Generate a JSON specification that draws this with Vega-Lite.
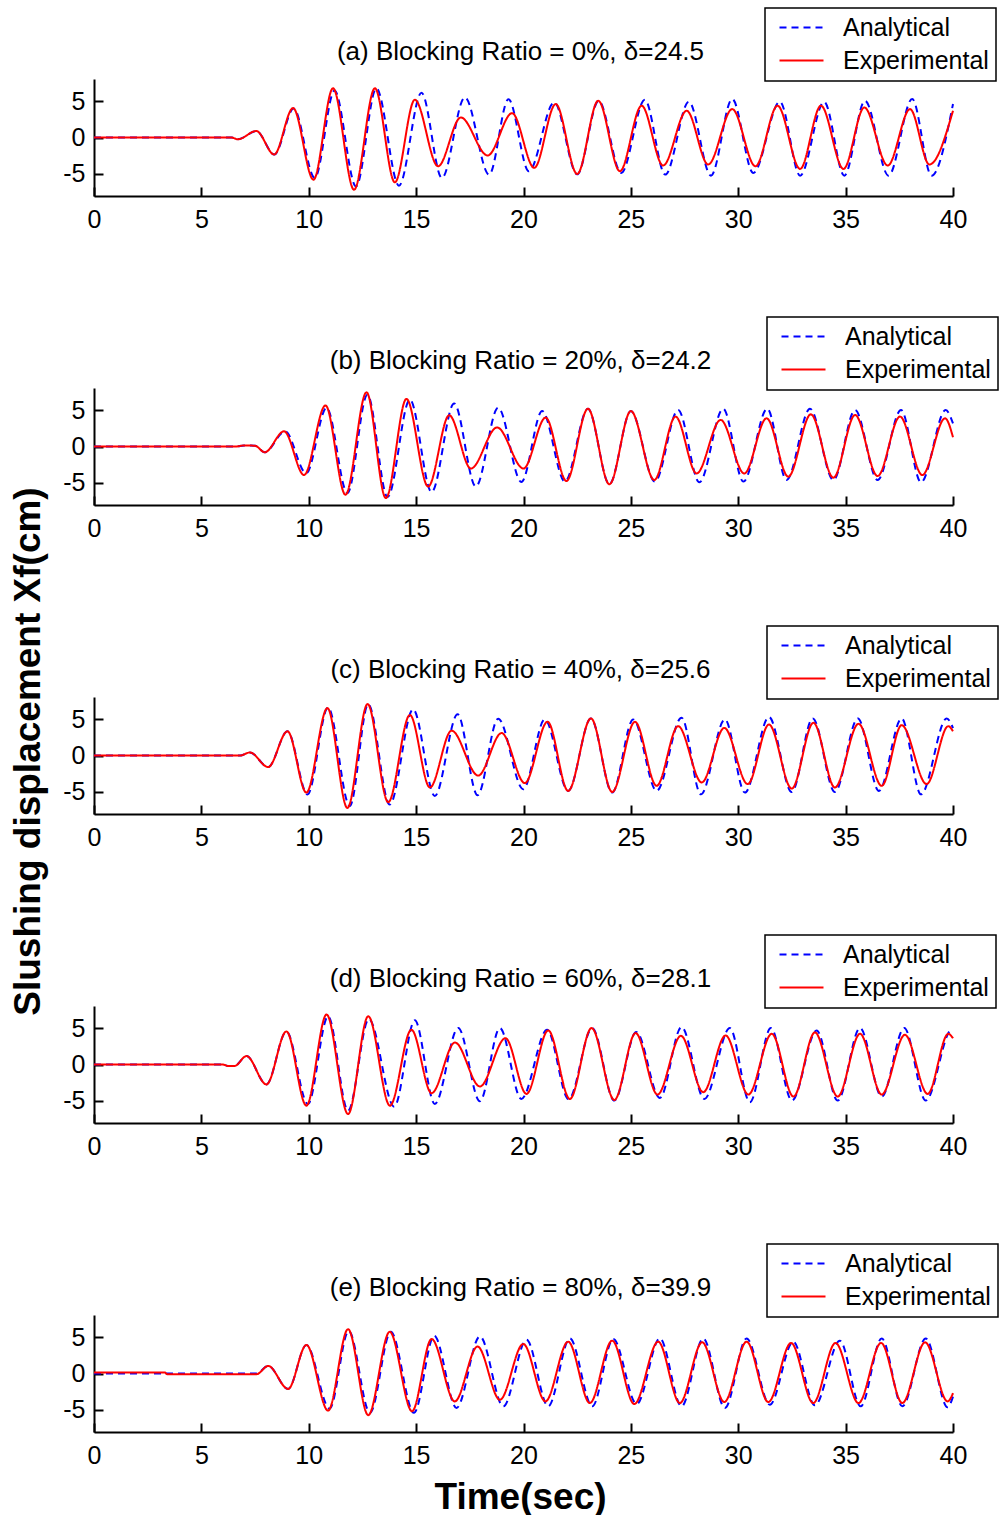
{
"$schema": "https://vega.github.io/schema/vega-lite/v6.json",
"background": "white",
"padding": {"left": 9, "top": 7, "right": 0, "bottom": 0},
"config": {
  "view": {"stroke": null},
  "font": "Liberation Sans",
  "axis": {"grid": false, "domainColor": "black", "domainWidth": 2, "tickColor": "black", "tickWidth": 2, "tickSize": -9, "labelFontSize": 25, "labelColor": "black", "labelFont": "Liberation Sans", "titleFont": "Liberation Sans", "titleColor": "black"},
  "axisX": {"labelPadding": 20, "labelFlush": false},
  "axisY": {"labelPadding": 18, "labelExpr": "'' + datum.value"},
  "legend": {"strokeColor": "black", "fillColor": "white", "padding": 7, "labelFontSize": 25, "labelFont": "Liberation Sans", "labelColor": "black", "symbolType": "M-2,0L2,0", "symbolSize": 484, "symbolStrokeWidth": 2, "symbolOffset": 17, "labelOffset": 29, "rowPadding": 7, "strokeWidth": 1.5},
  "title": {"fontSize": 26, "fontWeight": "normal", "font": "Liberation Sans", "color": "black", "offset": -58, "anchor": "middle", "dx": -3}
},
"datasets": {
"a": [
{"series":"Experimental","time":0,"disp":0},{"series":"Experimental","time":6.4,"disp":0},{"series":"Experimental","time":6.7,"disp":-0.25},{"series":"Experimental","time":7.56,"disp":0.9},{"series":"Experimental","time":8.39,"disp":-2.35},{"series":"Experimental","time":9.27,"disp":4.07},{"series":"Experimental","time":10.22,"disp":-5.84},{"series":"Experimental","time":11.13,"disp":6.81},{"series":"Experimental","time":12.11,"disp":-7.23},{"series":"Experimental","time":13.08,"disp":6.81},{"series":"Experimental","time":14.01,"disp":-6.21},{"series":"Experimental","time":14.94,"disp":5.23},{"series":"Experimental","time":16.02,"disp":-3.98},{"series":"Experimental","time":17.08,"disp":2.77},{"series":"Experimental","time":18.33,"disp":-2.49},{"series":"Experimental","time":19.47,"disp":3.37},{"series":"Experimental","time":20.5,"disp":-4.2},{"series":"Experimental","time":21.5,"disp":4.63},{"series":"Experimental","time":22.5,"disp":-5.05},{"series":"Experimental","time":23.48,"disp":5.09},{"series":"Experimental","time":24.49,"disp":-4.67},{"series":"Experimental","time":25.5,"disp":4.4},{"series":"Experimental","time":26.5,"disp":-3.88},{"series":"Experimental","time":27.6,"disp":3.7},{"series":"Experimental","time":28.6,"disp":-3.74},{"series":"Experimental","time":29.72,"disp":3.93},{"series":"Experimental","time":30.8,"disp":-3.98},{"series":"Experimental","time":31.83,"disp":4.4},{"series":"Experimental","time":32.88,"disp":-4.35},{"series":"Experimental","time":33.85,"disp":4.4},{"series":"Experimental","time":34.9,"disp":-4.35},{"series":"Experimental","time":35.87,"disp":4.16},{"series":"Experimental","time":36.96,"disp":-3.88},{"series":"Experimental","time":38.0,"disp":3.93},{"series":"Experimental","time":38.9,"disp":-3.74},{"series":"Experimental","time":40,"disp":3.7},
{"series":"Analytical","time":0,"disp":0},{"series":"Analytical","time":6.4,"disp":0},{"series":"Analytical","time":6.7,"disp":-0.25},{"series":"Analytical","time":7.56,"disp":0.9},{"series":"Analytical","time":8.4,"disp":-2.35},{"series":"Analytical","time":9.3,"disp":4.0},{"series":"Analytical","time":10.28,"disp":-5.6},{"series":"Analytical","time":11.2,"disp":6.5},{"series":"Analytical","time":12.2,"disp":-6.77},{"series":"Analytical","time":13.15,"disp":6.81},{"series":"Analytical","time":14.2,"disp":-6.67},{"series":"Analytical","time":15.25,"disp":6.2},{"series":"Analytical","time":16.2,"disp":-5.6},{"series":"Analytical","time":17.27,"disp":5.56},{"series":"Analytical","time":18.4,"disp":-5.14},{"series":"Analytical","time":19.3,"disp":5.3},{"series":"Analytical","time":20.25,"disp":-4.67},{"series":"Analytical","time":21.43,"disp":4.86},{"series":"Analytical","time":22.5,"disp":-5.1},{"series":"Analytical","time":23.5,"disp":5.09},{"series":"Analytical","time":24.55,"disp":-4.9},{"series":"Analytical","time":25.65,"disp":5.23},{"series":"Analytical","time":26.6,"disp":-5.14},{"series":"Analytical","time":27.7,"disp":4.95},{"series":"Analytical","time":28.73,"disp":-5.28},{"series":"Analytical","time":29.72,"disp":5.33},{"series":"Analytical","time":30.7,"disp":-4.9},{"series":"Analytical","time":31.94,"disp":4.95},{"series":"Analytical","time":32.88,"disp":-5.28},{"series":"Analytical","time":34.0,"disp":4.95},{"series":"Analytical","time":34.94,"disp":-5.28},{"series":"Analytical","time":35.9,"disp":5.09},{"series":"Analytical","time":37.0,"disp":-5.28},{"series":"Analytical","time":38.1,"disp":5.33},{"series":"Analytical","time":39.0,"disp":-5.28},{"series":"Analytical","time":40,"disp":4.63}
],
"b": [
{"series":"Experimental","time":0,"disp":0},{"series":"Experimental","time":6.6,"disp":0},{"series":"Experimental","time":7.0,"disp":0.15},{"series":"Experimental","time":7.5,"disp":0.1},{"series":"Experimental","time":7.95,"disp":-0.8},{"series":"Experimental","time":8.85,"disp":2.1},{"series":"Experimental","time":9.78,"disp":-3.95},{"series":"Experimental","time":10.78,"disp":5.68},{"series":"Experimental","time":11.71,"disp":-6.68},{"series":"Experimental","time":12.69,"disp":7.5},{"series":"Experimental","time":13.59,"disp":-7.14},{"series":"Experimental","time":14.55,"disp":6.59},{"series":"Experimental","time":15.56,"disp":-5.55},{"series":"Experimental","time":16.54,"disp":4.32},{"series":"Experimental","time":17.55,"disp":-3.05},{"series":"Experimental","time":18.77,"disp":2.64},{"series":"Experimental","time":20.0,"disp":-3.05},{"series":"Experimental","time":21.03,"disp":4.0},{"series":"Experimental","time":22.0,"disp":-4.77},{"series":"Experimental","time":23.0,"disp":5.23},{"series":"Experimental","time":24.0,"disp":-5.23},{"series":"Experimental","time":25.0,"disp":4.91},{"series":"Experimental","time":26.09,"disp":-4.64},{"series":"Experimental","time":27.08,"disp":4.14},{"series":"Experimental","time":28.06,"disp":-3.73},{"series":"Experimental","time":29.18,"disp":3.68},{"series":"Experimental","time":30.28,"disp":-3.73},{"series":"Experimental","time":31.32,"disp":3.91},{"series":"Experimental","time":32.33,"disp":-4.18},{"series":"Experimental","time":33.38,"disp":4.45},{"series":"Experimental","time":34.43,"disp":-4.32},{"series":"Experimental","time":35.44,"disp":4.36},{"series":"Experimental","time":36.49,"disp":-4.09},{"series":"Experimental","time":37.53,"disp":4.14},{"series":"Experimental","time":38.57,"disp":-3.95},{"series":"Experimental","time":39.63,"disp":3.91},{"series":"Experimental","time":40,"disp":1.27},
{"series":"Analytical","time":0,"disp":0},{"series":"Analytical","time":6.6,"disp":0},{"series":"Analytical","time":7.0,"disp":0.15},{"series":"Analytical","time":7.5,"disp":0.1},{"series":"Analytical","time":7.95,"disp":-0.8},{"series":"Analytical","time":8.9,"disp":2.1},{"series":"Analytical","time":9.88,"disp":-3.7},{"series":"Analytical","time":10.83,"disp":5.36},{"series":"Analytical","time":11.8,"disp":-6.45},{"series":"Analytical","time":12.73,"disp":7.18},{"series":"Analytical","time":13.67,"disp":-7.0},{"series":"Analytical","time":14.71,"disp":6.5},{"series":"Analytical","time":15.72,"disp":-6.3},{"series":"Analytical","time":16.77,"disp":5.95},{"series":"Analytical","time":17.78,"disp":-5.55},{"series":"Analytical","time":18.82,"disp":5.36},{"series":"Analytical","time":19.9,"disp":-4.9},{"series":"Analytical","time":20.87,"disp":4.9},{"series":"Analytical","time":21.93,"disp":-4.86},{"series":"Analytical","time":23.0,"disp":5.23},{"series":"Analytical","time":24.0,"disp":-5.23},{"series":"Analytical","time":25.0,"disp":4.91},{"series":"Analytical","time":26.12,"disp":-4.86},{"series":"Analytical","time":27.2,"disp":5.05},{"series":"Analytical","time":28.19,"disp":-4.95},{"series":"Analytical","time":29.3,"disp":5.23},{"series":"Analytical","time":30.24,"disp":-4.86},{"series":"Analytical","time":31.35,"disp":5.23},{"series":"Analytical","time":32.25,"disp":-4.64},{"series":"Analytical","time":33.34,"disp":5.23},{"series":"Analytical","time":34.43,"disp":-4.64},{"series":"Analytical","time":35.44,"disp":5.05},{"series":"Analytical","time":36.49,"disp":-4.64},{"series":"Analytical","time":37.58,"disp":5.05},{"series":"Analytical","time":38.51,"disp":-4.95},{"series":"Analytical","time":39.66,"disp":5.05},{"series":"Analytical","time":40,"disp":3.2}
],
"c": [
{"series":"Experimental","time":0,"disp":0},{"series":"Experimental","time":6.8,"disp":0},{"series":"Experimental","time":7.26,"disp":0.42},{"series":"Experimental","time":8.11,"disp":-1.6},{"series":"Experimental","time":9.01,"disp":3.35},{"series":"Experimental","time":9.89,"disp":-5.14},{"series":"Experimental","time":10.87,"disp":6.56},{"series":"Experimental","time":11.8,"disp":-7.26},{"series":"Experimental","time":12.74,"disp":7.12},{"series":"Experimental","time":13.7,"disp":-6.46},{"series":"Experimental","time":14.71,"disp":5.61},{"series":"Experimental","time":15.64,"disp":-4.43},{"series":"Experimental","time":16.65,"disp":3.44},{"series":"Experimental","time":17.89,"disp":-2.78},{"series":"Experimental","time":18.98,"disp":3.11},{"series":"Experimental","time":20.06,"disp":-3.82},{"series":"Experimental","time":21.12,"disp":4.67},{"series":"Experimental","time":22.08,"disp":-4.9},{"series":"Experimental","time":23.14,"disp":5.14},{"series":"Experimental","time":24.13,"disp":-5.05},{"series":"Experimental","time":25.19,"disp":4.67},{"series":"Experimental","time":26.2,"disp":-4.2},{"series":"Experimental","time":27.2,"disp":4.06},{"series":"Experimental","time":28.3,"disp":-3.73},{"series":"Experimental","time":29.35,"disp":3.82},{"series":"Experimental","time":30.44,"disp":-3.96},{"series":"Experimental","time":31.43,"disp":4.29},{"series":"Experimental","time":32.49,"disp":-4.58},{"series":"Experimental","time":33.5,"disp":4.53},{"series":"Experimental","time":34.5,"disp":-4.43},{"series":"Experimental","time":35.6,"disp":4.39},{"series":"Experimental","time":36.68,"disp":-4.2},{"series":"Experimental","time":37.61,"disp":4.2},{"series":"Experimental","time":38.77,"disp":-3.96},{"series":"Experimental","time":39.78,"disp":4.06},{"series":"Experimental","time":40,"disp":3.35},
{"series":"Analytical","time":0,"disp":0},{"series":"Analytical","time":6.8,"disp":0},{"series":"Analytical","time":7.26,"disp":0.42},{"series":"Analytical","time":8.11,"disp":-1.6},{"series":"Analytical","time":9.01,"disp":3.35},{"series":"Analytical","time":9.94,"disp":-5.4},{"series":"Analytical","time":10.9,"disp":6.65},{"series":"Analytical","time":11.91,"disp":-7.0},{"series":"Analytical","time":12.77,"disp":7.1},{"series":"Analytical","time":13.77,"disp":-6.8},{"series":"Analytical","time":14.86,"disp":6.4},{"series":"Analytical","time":15.87,"disp":-5.6},{"series":"Analytical","time":16.93,"disp":5.7},{"series":"Analytical","time":17.86,"disp":-5.5},{"series":"Analytical","time":18.82,"disp":5.1},{"series":"Analytical","time":19.99,"disp":-4.67},{"series":"Analytical","time":20.99,"disp":5.0},{"series":"Analytical","time":22.08,"disp":-4.9},{"series":"Analytical","time":23.14,"disp":5.14},{"series":"Analytical","time":24.13,"disp":-5.14},{"series":"Analytical","time":25.11,"disp":5.0},{"series":"Analytical","time":26.2,"disp":-4.9},{"series":"Analytical","time":27.36,"disp":5.24},{"series":"Analytical","time":28.26,"disp":-5.38},{"series":"Analytical","time":29.38,"disp":5.0},{"series":"Analytical","time":30.31,"disp":-5.14},{"series":"Analytical","time":31.43,"disp":5.33},{"series":"Analytical","time":32.49,"disp":-5.05},{"series":"Analytical","time":33.47,"disp":5.14},{"series":"Analytical","time":34.5,"disp":-5.05},{"series":"Analytical","time":35.57,"disp":5.14},{"series":"Analytical","time":36.55,"disp":-4.9},{"series":"Analytical","time":37.61,"disp":5.14},{"series":"Analytical","time":38.51,"disp":-5.38},{"series":"Analytical","time":39.71,"disp":5.14},{"series":"Analytical","time":40,"disp":3.8}
],
"d": [
{"series":"Experimental","time":0,"disp":0},{"series":"Experimental","time":6.0,"disp":0},{"series":"Experimental","time":6.25,"disp":-0.2},{"series":"Experimental","time":6.55,"disp":-0.2},{"series":"Experimental","time":7.1,"disp":1.17},{"series":"Experimental","time":8.03,"disp":-2.76},{"series":"Experimental","time":8.96,"disp":4.58},{"series":"Experimental","time":9.89,"disp":-5.7},{"series":"Experimental","time":10.83,"disp":6.92},{"series":"Experimental","time":11.83,"disp":-6.87},{"series":"Experimental","time":12.77,"disp":6.68},{"series":"Experimental","time":13.78,"disp":-5.7},{"series":"Experimental","time":14.78,"disp":4.81},{"series":"Experimental","time":15.72,"disp":-3.97},{"series":"Experimental","time":16.81,"disp":3.04},{"series":"Experimental","time":17.97,"disp":-3.04},{"series":"Experimental","time":19.16,"disp":3.64},{"series":"Experimental","time":20.14,"disp":-4.07},{"series":"Experimental","time":21.15,"disp":4.72},{"series":"Experimental","time":22.16,"disp":-4.77},{"series":"Experimental","time":23.17,"disp":5.05},{"series":"Experimental","time":24.23,"disp":-4.91},{"series":"Experimental","time":25.22,"disp":4.35},{"series":"Experimental","time":26.24,"disp":-4.16},{"series":"Experimental","time":27.33,"disp":3.97},{"series":"Experimental","time":28.37,"disp":-3.83},{"series":"Experimental","time":29.41,"disp":4.02},{"series":"Experimental","time":30.47,"disp":-4.16},{"series":"Experimental","time":31.56,"disp":4.25},{"series":"Experimental","time":32.57,"disp":-4.44},{"series":"Experimental","time":33.57,"disp":4.44},{"series":"Experimental","time":34.63,"disp":-4.44},{"series":"Experimental","time":35.67,"disp":4.25},{"series":"Experimental","time":36.68,"disp":-4.16},{"series":"Experimental","time":37.76,"disp":4.11},{"series":"Experimental","time":38.82,"disp":-4.07},{"series":"Experimental","time":39.78,"disp":4.25},{"series":"Experimental","time":40,"disp":3.64},
{"series":"Analytical","time":0,"disp":0},{"series":"Analytical","time":6.0,"disp":0},{"series":"Analytical","time":6.25,"disp":-0.2},{"series":"Analytical","time":6.55,"disp":-0.2},{"series":"Analytical","time":7.1,"disp":1.17},{"series":"Analytical","time":8.03,"disp":-2.76},{"series":"Analytical","time":8.96,"disp":4.58},{"series":"Analytical","time":9.96,"disp":-5.47},{"series":"Analytical","time":10.9,"disp":6.68},{"series":"Analytical","time":11.83,"disp":-6.4},{"series":"Analytical","time":12.8,"disp":6.3},{"series":"Analytical","time":13.98,"disp":-5.84},{"series":"Analytical","time":14.94,"disp":6.12},{"series":"Analytical","time":15.87,"disp":-5.47},{"series":"Analytical","time":16.96,"disp":5.05},{"series":"Analytical","time":17.97,"disp":-5.09},{"series":"Analytical","time":18.9,"disp":5.05},{"series":"Analytical","time":19.9,"disp":-4.77},{"series":"Analytical","time":21.1,"disp":4.8},{"series":"Analytical","time":22.1,"disp":-4.8},{"series":"Analytical","time":23.2,"disp":5.05},{"series":"Analytical","time":24.23,"disp":-5.0},{"series":"Analytical","time":25.25,"disp":4.5},{"series":"Analytical","time":26.35,"disp":-4.63},{"series":"Analytical","time":27.36,"disp":5.19},{"series":"Analytical","time":28.42,"disp":-4.77},{"series":"Analytical","time":29.61,"disp":5.05},{"series":"Analytical","time":30.54,"disp":-5.23},{"series":"Analytical","time":31.52,"disp":5.05},{"series":"Analytical","time":32.5,"disp":-5.0},{"series":"Analytical","time":33.65,"disp":4.72},{"series":"Analytical","time":34.63,"disp":-5.0},{"series":"Analytical","time":35.67,"disp":5.05},{"series":"Analytical","time":36.68,"disp":-4.44},{"series":"Analytical","time":37.73,"disp":5.05},{"series":"Analytical","time":38.73,"disp":-5.0},{"series":"Analytical","time":39.94,"disp":4.81},{"series":"Analytical","time":40,"disp":4.7}
],
"e": [
{"series":"Experimental","time":0,"disp":0.14},{"series":"Experimental","time":3.3,"disp":0.14},{"series":"Experimental","time":3.4,"disp":-0.1},{"series":"Experimental","time":7.57,"disp":-0.1},{"series":"Experimental","time":8.11,"disp":1.05},{"series":"Experimental","time":9.04,"disp":-2.14},{"series":"Experimental","time":9.89,"disp":3.95},{"series":"Experimental","time":10.9,"disp":-5.14},{"series":"Experimental","time":11.83,"disp":6.14},{"series":"Experimental","time":12.77,"disp":-5.77},{"series":"Experimental","time":13.77,"disp":5.77},{"series":"Experimental","time":14.81,"disp":-5.23},{"series":"Experimental","time":15.72,"disp":4.77},{"series":"Experimental","time":16.8,"disp":-3.86},{"series":"Experimental","time":17.86,"disp":3.73},{"series":"Experimental","time":18.9,"disp":-3.64},{"series":"Experimental","time":19.99,"disp":4.09},{"series":"Experimental","time":21.02,"disp":-3.86},{"series":"Experimental","time":22.08,"disp":4.41},{"series":"Experimental","time":23.09,"disp":-4.09},{"series":"Experimental","time":24.13,"disp":4.55},{"series":"Experimental","time":25.16,"disp":-4.23},{"series":"Experimental","time":26.27,"disp":4.41},{"series":"Experimental","time":27.28,"disp":-4.09},{"series":"Experimental","time":28.32,"disp":4.32},{"series":"Experimental","time":29.35,"disp":-3.95},{"series":"Experimental","time":30.39,"disp":4.41},{"series":"Experimental","time":31.4,"disp":-3.95},{"series":"Experimental","time":32.46,"disp":4.23},{"series":"Experimental","time":33.49,"disp":-4.09},{"series":"Experimental","time":34.53,"disp":4.23},{"series":"Experimental","time":35.6,"disp":-4.09},{"series":"Experimental","time":36.65,"disp":4.23},{"series":"Experimental","time":37.64,"disp":-4.09},{"series":"Experimental","time":38.7,"disp":4.32},{"series":"Experimental","time":39.75,"disp":-3.86},{"series":"Experimental","time":40,"disp":-2.73},
{"series":"Analytical","time":0,"disp":0},{"series":"Analytical","time":7.57,"disp":0},{"series":"Analytical","time":8.11,"disp":1.05},{"series":"Analytical","time":9.04,"disp":-2.14},{"series":"Analytical","time":9.89,"disp":3.95},{"series":"Analytical","time":10.97,"disp":-4.86},{"series":"Analytical","time":11.86,"disp":5.9},{"series":"Analytical","time":12.85,"disp":-5.45},{"series":"Analytical","time":13.82,"disp":5.77},{"series":"Analytical","time":14.9,"disp":-5.45},{"series":"Analytical","time":15.84,"disp":5.23},{"series":"Analytical","time":16.88,"disp":-4.77},{"series":"Analytical","time":17.97,"disp":5.14},{"series":"Analytical","time":19.06,"disp":-4.55},{"series":"Analytical","time":20.14,"disp":4.68},{"series":"Analytical","time":21.15,"disp":-4.55},{"series":"Analytical","time":22.16,"disp":4.86},{"series":"Analytical","time":23.2,"disp":-4.55},{"series":"Analytical","time":24.18,"disp":4.77},{"series":"Analytical","time":25.27,"disp":-4.23},{"series":"Analytical","time":26.35,"disp":4.86},{"series":"Analytical","time":27.36,"disp":-4.55},{"series":"Analytical","time":28.37,"disp":4.86},{"series":"Analytical","time":29.38,"disp":-4.77},{"series":"Analytical","time":30.39,"disp":4.86},{"series":"Analytical","time":31.47,"disp":-4.32},{"series":"Analytical","time":32.56,"disp":4.41},{"series":"Analytical","time":33.57,"disp":-4.41},{"series":"Analytical","time":34.73,"disp":4.55},{"series":"Analytical","time":35.7,"disp":-4.55},{"series":"Analytical","time":36.68,"disp":4.86},{"series":"Analytical","time":37.64,"disp":-4.55},{"series":"Analytical","time":38.73,"disp":4.86},{"series":"Analytical","time":39.75,"disp":-4.68},{"series":"Analytical","time":40,"disp":-3.2}
]
},
"spacing": 192,
"bounds": "flush",
"resolve": {"scale": {"x": "independent", "y": "independent", "color": "independent", "strokeDash": "independent"}},
"vconcat": [
{
 "title": "(a) Blocking Ratio = 0%, δ=24.5",
 "width": 859, "height": 117,
 "data": {"name": "a"},
 "encoding": {
  "x": {"field": "time", "type": "quantitative", "scale": {"domain": [0, 40], "nice": false}, "axis": {"values": [0,5,10,15,20,25,30,35,40], "title": null}},
  "y": {"field": "disp", "type": "quantitative", "scale": {"domain": [-8.1, 8.1], "nice": false, "zero": false}, "axis": {"values": [-5,0,5], "title": "Slushing displacement Xf(cm)", "titleFontSize": 37, "titleFontWeight": "bold", "titleX": -66, "titleY": 672, "titleAngle": 270, "titleAlign": "center", "titleBaseline": "middle"}},
  "color": {"field": "series", "type": "nominal", "scale": {"domain": ["Analytical","Experimental"], "range": ["#0000ff","#ff0000"]}, "legend": {"orient": "none", "legendX": 671, "legendY": -71, "title": null}},
  "strokeDash": {"field": "series", "type": "nominal", "scale": {"domain": ["Analytical","Experimental"], "range": [[7,5],[1,0]]}, "legend": {"orient": "none", "legendX": 671, "legendY": -71, "title": null}}
 },
 "layer": [
  {"transform": [{"filter": "datum.series === 'Analytical'"}], "mark": {"type": "line", "interpolate": "monotone", "strokeWidth": 2}},
  {"transform": [{"filter": "datum.series === 'Experimental'"}], "mark": {"type": "line", "interpolate": "monotone", "strokeWidth": 2}}
 ]
},
{
 "title": "(b) Blocking Ratio = 20%, δ=24.2",
 "width": 859, "height": 117,
 "data": {"name": "b"},
 "encoding": {
  "x": {"field": "time", "type": "quantitative", "scale": {"domain": [0, 40], "nice": false}, "axis": {"values": [0,5,10,15,20,25,30,35,40], "title": null}},
  "y": {"field": "disp", "type": "quantitative", "scale": {"domain": [-8.1, 8.1], "nice": false, "zero": false}, "axis": {"values": [-5,0,5], "title": null}},
  "color": {"field": "series", "type": "nominal", "scale": {"domain": ["Analytical","Experimental"], "range": ["#0000ff","#ff0000"]}, "legend": {"orient": "none", "legendX": 673, "legendY": -71, "title": null}},
  "strokeDash": {"field": "series", "type": "nominal", "scale": {"domain": ["Analytical","Experimental"], "range": [[7,5],[1,0]]}, "legend": {"orient": "none", "legendX": 673, "legendY": -71, "title": null}}
 },
 "layer": [
  {"transform": [{"filter": "datum.series === 'Analytical'"}], "mark": {"type": "line", "interpolate": "monotone", "strokeWidth": 2}},
  {"transform": [{"filter": "datum.series === 'Experimental'"}], "mark": {"type": "line", "interpolate": "monotone", "strokeWidth": 2}}
 ]
},
{
 "title": "(c) Blocking Ratio = 40%, δ=25.6",
 "width": 859, "height": 117,
 "data": {"name": "c"},
 "encoding": {
  "x": {"field": "time", "type": "quantitative", "scale": {"domain": [0, 40], "nice": false}, "axis": {"values": [0,5,10,15,20,25,30,35,40], "title": null}},
  "y": {"field": "disp", "type": "quantitative", "scale": {"domain": [-8.1, 8.1], "nice": false, "zero": false}, "axis": {"values": [-5,0,5], "title": null}},
  "color": {"field": "series", "type": "nominal", "scale": {"domain": ["Analytical","Experimental"], "range": ["#0000ff","#ff0000"]}, "legend": {"orient": "none", "legendX": 673, "legendY": -71, "title": null}},
  "strokeDash": {"field": "series", "type": "nominal", "scale": {"domain": ["Analytical","Experimental"], "range": [[7,5],[1,0]]}, "legend": {"orient": "none", "legendX": 673, "legendY": -71, "title": null}}
 },
 "layer": [
  {"transform": [{"filter": "datum.series === 'Analytical'"}], "mark": {"type": "line", "interpolate": "monotone", "strokeWidth": 2}},
  {"transform": [{"filter": "datum.series === 'Experimental'"}], "mark": {"type": "line", "interpolate": "monotone", "strokeWidth": 2}}
 ]
},
{
 "title": "(d) Blocking Ratio = 60%, δ=28.1",
 "width": 859, "height": 117,
 "data": {"name": "d"},
 "encoding": {
  "x": {"field": "time", "type": "quantitative", "scale": {"domain": [0, 40], "nice": false}, "axis": {"values": [0,5,10,15,20,25,30,35,40], "title": null}},
  "y": {"field": "disp", "type": "quantitative", "scale": {"domain": [-8.1, 8.1], "nice": false, "zero": false}, "axis": {"values": [-5,0,5], "title": null}},
  "color": {"field": "series", "type": "nominal", "scale": {"domain": ["Analytical","Experimental"], "range": ["#0000ff","#ff0000"]}, "legend": {"orient": "none", "legendX": 671, "legendY": -71, "title": null}},
  "strokeDash": {"field": "series", "type": "nominal", "scale": {"domain": ["Analytical","Experimental"], "range": [[7,5],[1,0]]}, "legend": {"orient": "none", "legendX": 671, "legendY": -71, "title": null}}
 },
 "layer": [
  {"transform": [{"filter": "datum.series === 'Analytical'"}], "mark": {"type": "line", "interpolate": "monotone", "strokeWidth": 2}},
  {"transform": [{"filter": "datum.series === 'Experimental'"}], "mark": {"type": "line", "interpolate": "monotone", "strokeWidth": 2}}
 ]
},
{
 "title": "(e) Blocking Ratio = 80%, δ=39.9",
 "width": 859, "height": 117,
 "data": {"name": "e"},
 "encoding": {
  "x": {"field": "time", "type": "quantitative", "scale": {"domain": [0, 40], "nice": false}, "axis": {"values": [0,5,10,15,20,25,30,35,40], "title": "Time(sec)", "titleFontSize": 37, "titleFontWeight": "bold", "titleX": 426, "titleY": 65, "titleAlign": "center", "titleBaseline": "middle"}},
  "y": {"field": "disp", "type": "quantitative", "scale": {"domain": [-8.1, 8.1], "nice": false, "zero": false}, "axis": {"values": [-5,0,5], "title": null}},
  "color": {"field": "series", "type": "nominal", "scale": {"domain": ["Analytical","Experimental"], "range": ["#0000ff","#ff0000"]}, "legend": {"orient": "none", "legendX": 673, "legendY": -71, "title": null}},
  "strokeDash": {"field": "series", "type": "nominal", "scale": {"domain": ["Analytical","Experimental"], "range": [[7,5],[1,0]]}, "legend": {"orient": "none", "legendX": 673, "legendY": -71, "title": null}}
 },
 "layer": [
  {"transform": [{"filter": "datum.series === 'Analytical'"}], "mark": {"type": "line", "interpolate": "monotone", "strokeWidth": 2}},
  {"transform": [{"filter": "datum.series === 'Experimental'"}], "mark": {"type": "line", "interpolate": "monotone", "strokeWidth": 2}}
 ]
}
]
}
